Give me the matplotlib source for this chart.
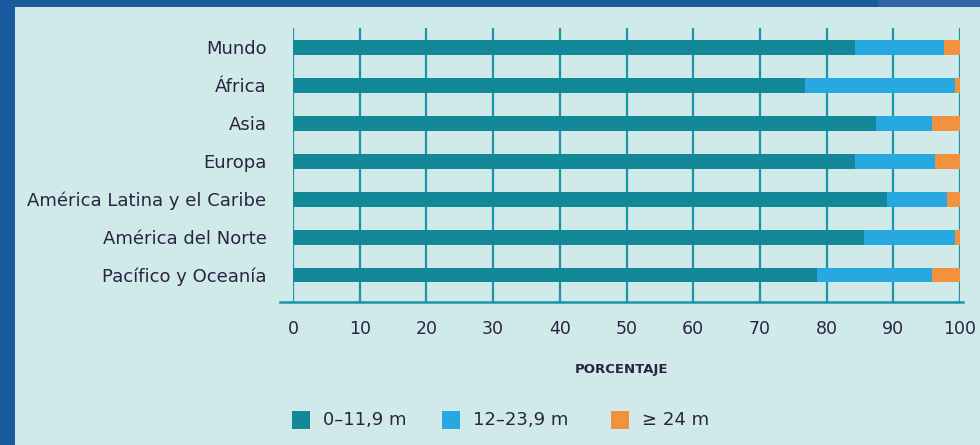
import matplotlib
matplotlib.use("Agg")
import matplotlib.pyplot as plt
from matplotlib.patches import Rectangle
from matplotlib.lines import Line2D
import numpy as np

# ── Data ──────────────────────────────────────────────────────────────────────
regions = ["Mundo", "África", "Asia", "Europa",
           "América Latina y el Caribe", "América del Norte", "Pacífico y Oceanía"]
short_m = [84.2, 76.7, 87.4, 84.2, 89.1, 85.6, 78.5]    # 0–11,9 m
mid_m   = [13.4, 22.6, 8.4, 12.0, 8.9, 13.7, 17.3]      # 12–23,9 m
long_m  = [2.4, 0.7, 4.2, 3.8, 2.0, 0.7, 4.2]           # >= 24 m
series_labels = ["0–11,9 m", "12–23,9 m", "≥ 24 m"]
xticks = list(range(0, 101, 10))

# ── Style ─────────────────────────────────────────────────────────────────────
BG     = "#d0eae9"
FRAME  = "#1a5a9e"
TEAL   = "#1a97a6"
TXT    = "#2a2444"
COLS   = ["#138899", "#28a8e0", "#f3923e"]
plt.rcParams["font.family"] = ["DejaVu Sans"]

W, H = 980, 445
fig = plt.figure(figsize=(W / 100, H / 100), dpi=100, facecolor=FRAME)

# light panel over the blue frame
fig.patches.append(Rectangle((15 / W, 0), 1, 1 - 7 / H, transform=fig.transFigure,
                             facecolor=BG, edgecolor="none", zorder=-5))
fig.patches.append(Rectangle((878 / W, 1 - 7 / H), 1, 7 / H, transform=fig.transFigure,
                             facecolor="#3162a8", edgecolor="none", zorder=-5))

x0, x1 = 293 / W, 960 / W
y_top, y_bot = 1 - 28 / H, 1 - 302 / H
ax = fig.add_axes([x0, y_bot, x1 - x0, y_top - y_bot])
ax.set_facecolor("none")

y = np.arange(len(regions))
left = np.zeros(len(regions))
for vals, col in zip([short_m, mid_m, long_m], COLS):
    ax.barh(y, vals, left=left, height=0.39, color=col, zorder=3)
    left = left + np.array(vals)

for t in xticks:
    ax.axvline(t, color=TEAL, lw=1.6, zorder=1)

ax.set_xlim(0, 100)
ax.set_ylim(6.71, -0.51)
ax.set_xticks(xticks)
ax.set_yticks(y)
ax.set_yticklabels(regions)
ax.tick_params(axis="x", length=0, pad=13, labelsize=12.5, colors=TXT)
ax.tick_params(axis="y", length=0, pad=19, labelsize=13, colors=TXT)
for s in ax.spines.values():
    s.set_visible(False)

# bottom baseline extending past the axis ends
fig.add_artist(Line2D([280 / W, 963 / W], [y_bot, y_bot], transform=fig.transFigure,
                      color=TEAL, lw=1.8))

fig.text(622 / W, 1 - 370 / H, "PORCENTAJE", ha="center", va="center",
         fontsize=9.5, fontweight="bold", color=TXT,
         family=["Liberation Sans Narrow", "DejaVu Sans"])

# legend: coloured squares with labels
leg_x = [292, 442, 611]
for lx, col, lab in zip(leg_x, COLS, series_labels):
    fig.patches.append(Rectangle((lx / W, 1 - 429 / H), 18 / W, 18 / H,
                                 transform=fig.transFigure, facecolor=col,
                                 edgecolor="none"))
    fig.text((lx + 31) / W, 1 - 420 / H, lab, ha="left", va="center",
             fontsize=13, color=TXT)

fig.savefig("out.png", dpi=100, facecolor=FRAME)
